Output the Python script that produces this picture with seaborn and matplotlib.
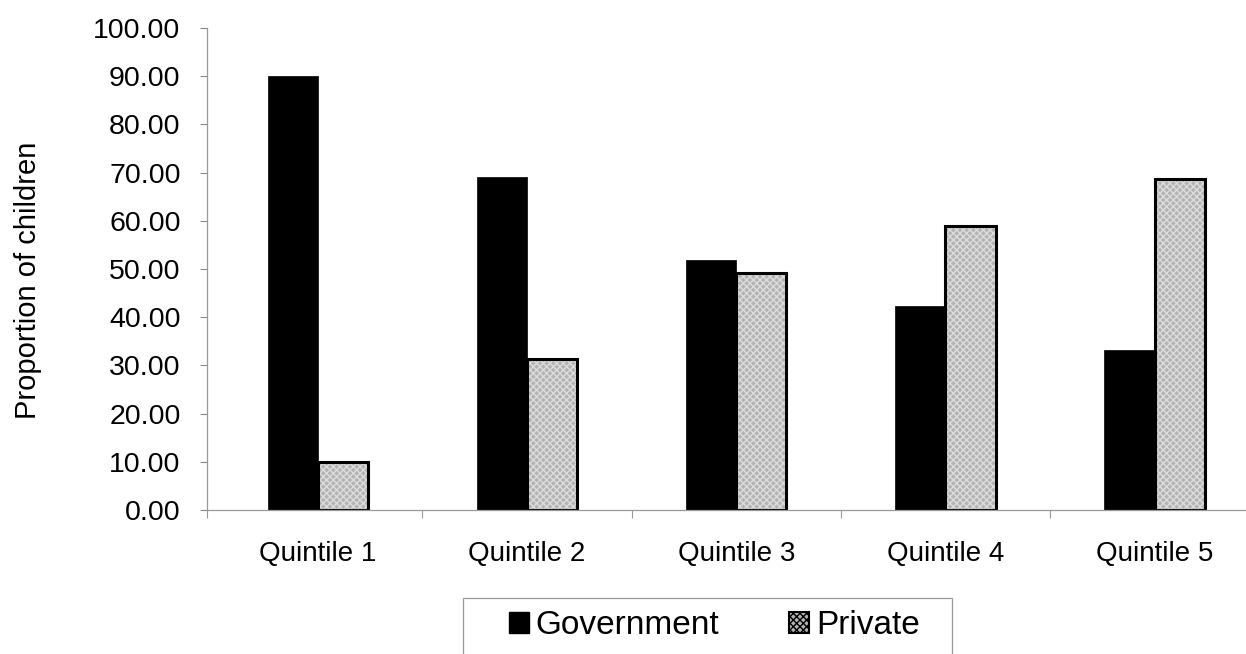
import matplotlib
matplotlib.use("Agg")
import matplotlib.pyplot as plt
from matplotlib.patches import Rectangle, Patch
import seaborn as sns
import pandas as pd
import numpy as np

# Share of children by school type across wealth quintiles
quintiles = ["Quintile 1", "Quintile 2", "Quintile 3", "Quintile 4", "Quintile 5"]
government = [90.0, 69.0, 51.8, 42.3, 33.2]
private = [10.0, 31.3, 49.2, 58.9, 68.7]
series = ["Government", "Private"]

df = pd.DataFrame({
    "quintile": quintiles * 2,
    "school": [series[0]] * len(quintiles) + [series[1]] * len(quintiles),
    "value": government + private,
})

sns.set_theme(style="white")
plt.rcParams["font.family"] = ["Liberation Sans", "DejaVu Sans"]
plt.rcParams["text.color"] = "#000000"
plt.rcParams["axes.labelcolor"] = "#000000"
plt.rcParams["xtick.color"] = "#000000"
plt.rcParams["ytick.color"] = "#000000"

W, H = 1246, 654
fig = plt.figure(figsize=(W / 100, H / 100), dpi=100)
ax = fig.add_axes([207 / W, 1 - 510 / H, 0.8445, 482 / H])

sns.barplot(data=df, x="quintile", y="value", hue="school",
            order=quintiles, hue_order=series,
            palette={"Government": "#000000", "Private": "#b3b3b3"},
            width=0.48, errorbar=None, legend=False, ax=ax, saturation=1)

n = len(quintiles)
gov_bars = ax.patches[:n]
priv_bars = ax.patches[n:2 * n]
for p in gov_bars:
    p.set_edgecolor("#000000")
    p.set_linewidth(0.5)
for p in priv_bars:
    p.set_hatch("xxxxx")
    p.set_edgecolor("#dcdcdc")
    p.set_linewidth(0)
    # crisp black outline on top of the hatched fill
    ax.add_patch(Rectangle(p.get_xy(), p.get_width(), p.get_height(),
                           fill=False, edgecolor="#000000", linewidth=2.2,
                           zorder=p.get_zorder() + 0.1))

x_left = -0.53
ax.set_ylim(0, 100)
ax.set_xlim(x_left, n - 0.5)
ax.set_yticks(np.arange(0, 101, 10))
ax.set_yticklabels([f"{v:.2f}" for v in np.arange(0, 101, 10)])
ax.set_xticks(range(n))
ax.set_xticklabels(quintiles)
ax.set_xticks([x_left] + list(np.arange(0.5, n, 1.0)), minor=True)

ax.set_xlabel("")
ax.set_ylabel("Proportion of children", fontsize=21)
ax.yaxis.set_label_coords(-0.157, 0.477)

ax.tick_params(axis="y", which="major", direction="out", length=5, width=0.8,
               color="#888888", labelsize=20.5, pad=14, left=True)
ax.tick_params(axis="x", which="major", length=0, labelsize=20, pad=22)
ax.tick_params(axis="x", which="minor", direction="out", length=6, width=0.8,
               color="#999999", bottom=True)

for side in ["top", "right"]:
    ax.spines[side].set_visible(False)
for side in ["left", "bottom"]:
    ax.spines[side].set_color("#999999")
    ax.spines[side].set_linewidth(0.9)

# legend entries without their own frame; the box is drawn separately
handles = [
    Patch(facecolor="#000000", edgecolor="#000000", label="Government"),
    Patch(facecolor="#b3b3b3", edgecolor="#000000", hatch="xxxxx", linewidth=1.5, label="Private"),
]
leg = fig.legend(handles=handles, loc="center left",
                 bbox_to_anchor=(509 / W, 1 - 626 / H),
                 ncol=2, fontsize=24, frameon=False,
                 handlelength=0.6, handleheight=0.6, handletextpad=0.2,
                 columnspacing=2.1, borderpad=0, borderaxespad=0)

fig.add_artist(Rectangle((463 / W, -0.05), (952 - 463) / W, 0.05 + 1 - 598 / H,
                         transform=fig.transFigure, fill=False,
                         edgecolor="#999999", linewidth=0.9))

fig.savefig("out.png", dpi=100)
